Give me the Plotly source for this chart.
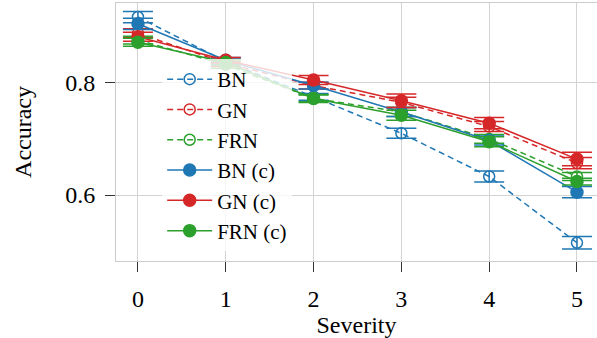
import plotly.graph_objects as go

severity = [0, 1, 2, 3, 4, 5]

bn = [0.917, 0.838, 0.775, 0.710, 0.633, 0.515]
gn = [0.888, 0.835, 0.795, 0.765, 0.722, 0.657]
frn = [0.876, 0.832, 0.772, 0.748, 0.700, 0.633]
bn_c = [0.905, 0.840, 0.795, 0.748, 0.697, 0.605]
gn_c = [0.882, 0.840, 0.805, 0.768, 0.728, 0.664]
frn_c = [0.872, 0.836, 0.772, 0.742, 0.695, 0.624]

bn_err = [0.010, 0.006, 0.006, 0.009, 0.010, 0.011]
gn_err = [0.008, 0.006, 0.006, 0.009, 0.009, 0.010]
frn_err = [0.007, 0.006, 0.006, 0.008, 0.008, 0.007]
bn_c_err = [0.010, 0.005, 0.006, 0.008, 0.008, 0.010]
gn_c_err = [0.008, 0.005, 0.008, 0.012, 0.010, 0.012]
frn_c_err = [0.007, 0.005, 0.007, 0.009, 0.009, 0.006]

BLUE, RED, GREEN = "#1f77b4", "#d62728", "#2ca02c"
FONT = "Liberation Serif, Times New Roman, serif"

series = [
    ("BN", bn, bn_err, BLUE, False),
    ("GN", gn, gn_err, RED, False),
    ("FRN", frn, frn_err, GREEN, False),
    ("BN (c)", bn_c, bn_c_err, BLUE, True),
    ("GN (c)", gn_c, gn_c_err, RED, True),
    ("FRN (c)", frn_c, frn_c_err, GREEN, True),
]

fig = go.Figure()
for name, vals, errs, col, filled in series:
    fig.add_trace(go.Scatter(
        x=severity, y=vals, name=name, mode="lines+markers",
        line=dict(color=col, width=1.5, dash="solid" if filled else "6px,4px"),
        marker=dict(
            symbol="circle" if filled else "circle-open",
            size=12 if filled else 11,
            color=col,
            line=dict(color=col, width=1.5),
        ),
        error_y=dict(type="data", array=errs, visible=True, color=col,
                     thickness=1.5, width=15),
    ))

fig.update_layout(
    width=597, height=338,
    margin=dict(l=116, r=0, t=3, b=77),
    plot_bgcolor="white", paper_bgcolor="white",
    font=dict(family=FONT, size=24, color="black"),
    showlegend=True,
    legend=dict(
        x=0.096, y=0.783, xanchor="left", yanchor="top",
        bgcolor="rgba(255,255,255,0.8)", borderwidth=0,
        font=dict(family=FONT, size=21),
        itemwidth=45,
    ),
    xaxis=dict(
        range=[-0.25, 5.228], tickmode="array", tickvals=severity,
        showgrid=True, gridcolor="#d3d3d3", gridwidth=1,
        showline=True, linecolor="#cccccc", linewidth=1, mirror=True,
        ticks="outside", ticklen=10, tickcolor="#333333", tickwidth=1,
        ticklabelstandoff=6,
        zeroline=False,
        title=dict(text="Severity", standoff=0, font=dict(family=FONT, size=24)),
    ),
    yaxis=dict(
        range=[0.4825, 0.942], tickmode="array", tickvals=[0.6, 0.8],
        ticktext=["0.6", "0.8"],
        showgrid=True, gridcolor="#d3d3d3", gridwidth=1,
        showline=True, linecolor="#cccccc", linewidth=1, mirror=False,
        ticks="outside", ticklen=10, tickcolor="#333333", tickwidth=1,
        ticklabelstandoff=5,
        zeroline=False,
        title=dict(text="Accuracy", standoff=26, font=dict(family=FONT, size=24)),
    ),
)

fig.write_html("out.html")
